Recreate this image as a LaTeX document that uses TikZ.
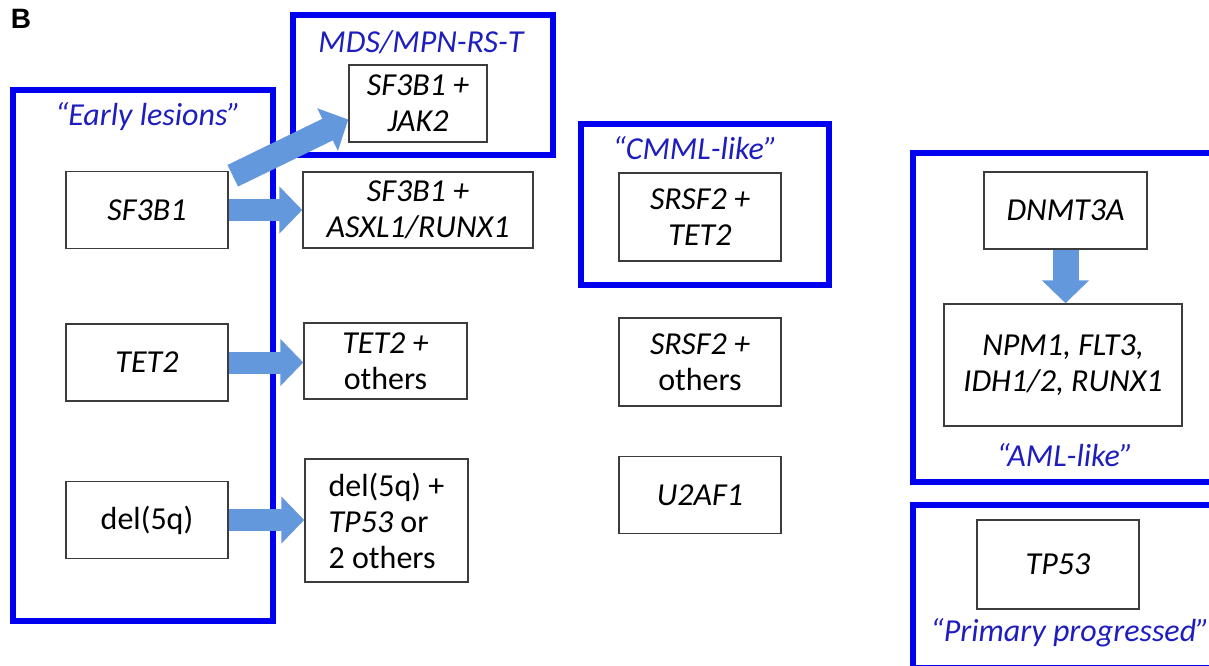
\documentclass[tikz,border=0pt]{standalone}
\usepackage{fontspec}
\setmainfont{Carlito}
\newfontfamily\panelfont{Liberation Sans}
\usetikzlibrary{arrows.meta, positioning}

\definecolor{framecol}{RGB}{0,0,240}
\definecolor{titlecol}{RGB}{30,30,190}
\definecolor{arrowcol}{RGB}{100,152,220}
\definecolor{edgecol}{RGB}{60,60,60}

\begin{document}
\begin{tikzpicture}[
    x=0.5pt, y=-0.5pt,
    block/.style={rectangle, draw=edgecol, line width=0.75pt, fill=white, align=center, inner sep=0pt, minimum width=81pt, minimum height=38.5pt, font=\fontsize{16}{18}\selectfont\itshape},
    group/.style={draw=framecol, line width=2.6pt},
    grouplabel/.style={text=titlecol, inner sep=0pt, font=\fontsize{16}{18}\selectfont\itshape},
    line/.style={draw=arrowcol, line width=11pt, -{Triangle[width=23pt, length=11.5pt]}}
]
\useasboundingbox (0,0) rectangle (1209,665);

\node [font=\panelfont\bfseries\fontsize{14}{16}\selectfont] (panel) at (21,19) {B};

\draw [group] (13,90) rectangle (273,621);
\draw [group] (293,15) rectangle (553,155);
\draw [group] (581,124) rectangle (829,285);
\draw [group] (913,153) rectangle (1230,482);
\draw [group] (913,505) rectangle (1230,668);

\node [grouplabel] (early) at (148,117) {“Early lesions”};
\node [grouplabel] (mds) at (421,42) {MDS/MPN-RS-T};
\node [grouplabel] (cmml) at (695,148) {“CMML-like”};
\node [grouplabel] (aml) at (1065,455) {“AML-like”};
\node [grouplabel] (primary) at (1070,633) {“Primary progressed”};

\node [block] (sf) at (147,210) {SF3B1};
\node [block] (tet) at (147,362.5) {TET2};
\node [block] (del) at (147,520) {\textup{del(5q)}};

\node [block, minimum width=69pt] (jak) at (418,103.5) {SF3B1 +\\JAK2};
\node [block, minimum width=115pt, minimum height=38pt] (sfas) at (418,210) {SF3B1 +\\ASXL1/RUNX1};
\node [block, minimum width=81.5pt, minimum height=38pt] (teto) at (385.5,361) {TET2 +\\\textup{others}};
\node [block, minimum width=81.5pt, minimum height=61.5pt, align=left] (delp) at (386.5,520.5) {\textup{del(5q) +}\\TP53 \textup{or}\\\textup{2 others}};

\node [block, minimum height=44pt] (srtet) at (700,217) {SRSF2 +\\TET2};
\node [block, minimum height=44pt] (sro) at (700,362) {SRSF2 +\\\textup{others}};
\node [block] (u2) at (700,495) {U2AF1};

\node [block, minimum width=81.5pt] (dnmt) at (1065.5,210.5) {DNMT3A};
\node [block, minimum width=119pt, minimum height=61pt] (npm) at (1063,365) {NPM1, FLT3,\\IDH1/2, RUNX1};
\node [block, minimum height=44.5pt] (tp) at (1058,564.5) {TP53};

\path [line] (sf) -- (sfas);
\path [line, line width=12pt] ([xshift=2pt, yshift=-2.5pt]sf.north east) -- ([yshift=-8pt]jak.west);
\path [line] (tet.east) -- (tet.east -| teto.west);
\path [line] (del.east) -- (del.east -| delp.west);
\path [line, line width=13pt] (dnmt.south) -- (dnmt.south |- npm.north);

\end{tikzpicture}
\end{document}
